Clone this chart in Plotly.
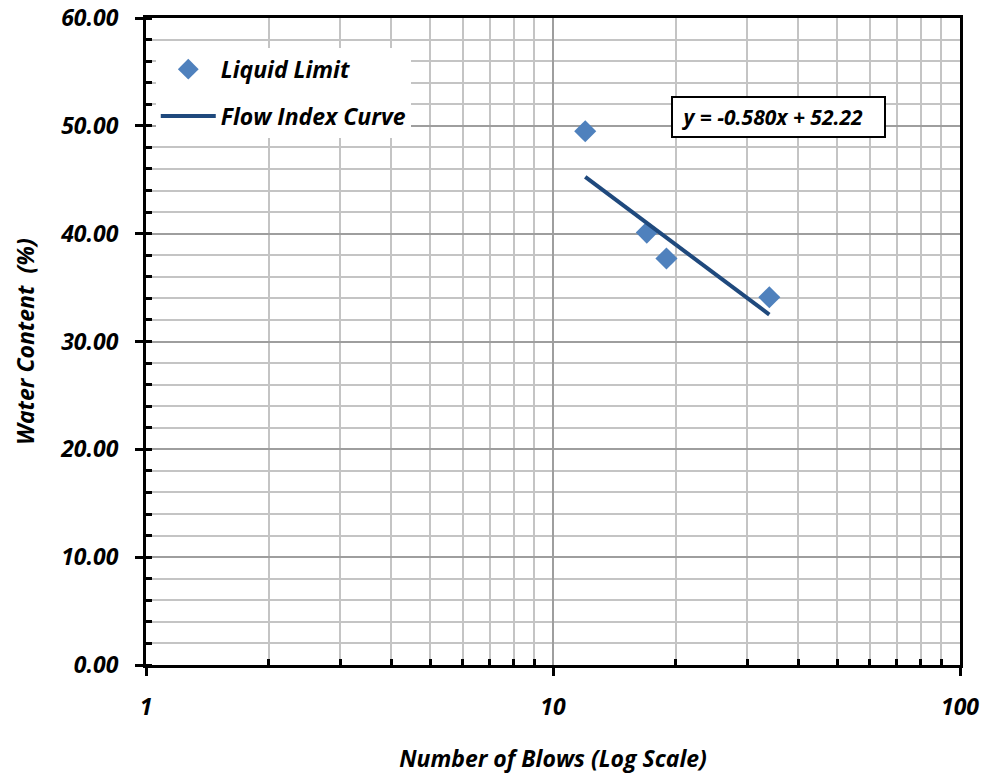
import plotly.graph_objects as go

blows = [12, 17, 19, 34]
water = [49.5, 40.1, 37.7, 34.1]
fit_x = [12, 34]
fit_y = [45.26, 32.5]
eq_text = "y = -0.580x + 52.22"
y_ticks = [0, 10, 20, 30, 40, 50, 60]
x_ticks = [1, 10, 100]
x_minor = [2, 3, 4, 5, 6, 7, 8, 9, 20, 30, 40, 50, 60, 70, 80, 90]

FONT = "Open Sans"
fnt = dict(family=FONT, size=23, color="black", weight="bold", style="italic")
eqfnt = dict(family=FONT, size=21, color="black", weight="bold", style="italic")

fig = go.Figure()
fig.add_trace(go.Scatter(x=blows, y=water, mode="markers", name="Liquid Limit",
                         marker=dict(symbol="diamond", size=17, color="#4F81BD"),
                         legendgroup="a"))
fig.add_trace(go.Scatter(x=fit_x, y=fit_y, mode="lines", name="Flow Index Curve",
                         line=dict(color="#1F497D", width=4), legendgroup="b"))

fig.add_annotation(x=0.7775, y=0.847, xref="paper", yref="paper",
                   text="&nbsp;" + eq_text + "&nbsp;&nbsp;&nbsp;",
                   xanchor="center", yanchor="middle",
                   showarrow=False, font=eqfnt, bgcolor="white", bordercolor="black",
                   borderwidth=2, borderpad=5)

fig.update_layout(
    width=987, height=778,
    margin=dict(l=146, r=27, t=18, b=113, autoexpand=False),
    paper_bgcolor="white", plot_bgcolor="white",
    font=fnt,
    showlegend=True,
    legend=dict(x=0.012, y=0.954, xanchor="left", yanchor="top", bgcolor="white",
                font=fnt, tracegroupgap=14, itemwidth=55,
                borderwidth=0),
    xaxis=dict(type="log", range=[0, 2], tickvals=x_ticks, ticktext=["1", "10", "100"],
               showline=True, linecolor="black", linewidth=3, mirror=True,
               ticks="outside", ticklen=8, tickwidth=3, tickcolor="black",
               showgrid=True, gridcolor="#9E9E9E", gridwidth=1.5,
               ticklabelstandoff=11, tickfont=fnt, automargin=False,
               minor=dict(tickvals=x_minor, ticks="inside", ticklen=6, tickwidth=3,
                          tickcolor="black", showgrid=True, gridcolor="#C4C4C4", gridwidth=1.5),
               title=dict(text="Number of Blows (Log Scale)", font=fnt, standoff=31),
               zeroline=False),
    yaxis=dict(range=[0, 60], tickvals=y_ticks, tickformat=".2f",
               showline=True, linecolor="black", linewidth=3, mirror=True,
               ticks="outside", ticklen=8, tickwidth=3, tickcolor="black",
               showgrid=True, gridcolor="#9E9E9E", gridwidth=1.5,
               tickfont=fnt, ticklabelstandoff=12, automargin=False,
               minor=dict(dtick=2, ticks="inside", ticklen=6, tickwidth=3,
                          tickcolor="black", showgrid=True, gridcolor="#C4C4C4", gridwidth=1.5),
               title=dict(text="Water Content  (%)", font=fnt, standoff=20),
               zeroline=False),
)

fig.write_html("out.html")
